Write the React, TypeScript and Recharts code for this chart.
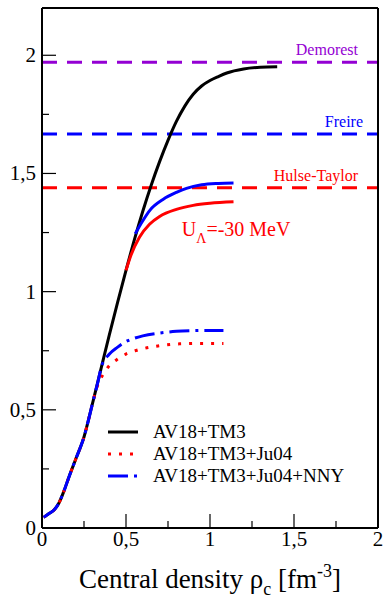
import React from "react"
import { Legend, Line, LineChart, ReferenceDot, ReferenceLine, XAxis, YAxis } from "recharts"

// nucleonic branch shared by every EOS at low density
const nucleonRho = [0.01, 0.04, 0.07, 0.1, 0.13, 0.16, 0.2, 0.25, 0.3]
const nucleonMass = [0.045, 0.06, 0.075, 0.105, 0.155, 0.215, 0.29, 0.385, 0.525]

// AV18+TM3 (nucleons only)
const tm3Rho = [0.35, 0.4, 0.45, 0.5, 0.55, 0.6, 0.65, 0.7, 0.75, 0.8, 0.85, 0.9, 0.95, 1.0, 1.05, 1.1, 1.2, 1.3, 1.4]
const tm3Mass = [0.67, 0.815, 0.955, 1.09, 1.22, 1.34, 1.45, 1.55, 1.64, 1.72, 1.785, 1.835, 1.87, 1.893, 1.91, 1.925, 1.942, 1.949, 1.951]

// AV18+TM3+Ju04
const ju04Rho = [0.32, 0.34, 0.36, 0.395, 0.445, 0.5, 0.565, 0.69, 0.82, 0.95, 1.08]
const ju04Mass = [0.58, 0.62, 0.645, 0.682, 0.712, 0.736, 0.752, 0.77, 0.779, 0.781, 0.781]

// AV18+TM3+Ju04+NNY
const nnyRho = [0.33, 0.355, 0.4, 0.45, 0.485, 0.55, 0.6, 0.7, 0.8, 0.9, 1.0, 1.08]
const nnyMass = [0.61, 0.685, 0.735, 0.765, 0.783, 0.803, 0.813, 0.825, 0.832, 0.835, 0.836, 0.836]

// U_Lambda = -30 MeV variants
const ju04UlRho = [0.5, 0.53, 0.58, 0.64, 0.7, 0.8, 0.9, 1.0, 1.14]
const ju04UlMass = [1.09, 1.155, 1.23, 1.285, 1.318, 1.348, 1.365, 1.374, 1.38]
const nnyUlRho = [0.555, 0.6, 0.643, 0.72, 0.8, 0.86, 0.95, 1.05, 1.14]
const nnyUlMass = [1.245, 1.3, 1.345, 1.39, 1.42, 1.437, 1.452, 1.458, 1.46]

// observed pulsar masses
const pulsarNames = ["Demorest", "Freire", "Hulse-Taylor"]
const pulsarMass = [1.97, 1.667, 1.44]
const pulsarColors = ["#9400d3", "#0000ff", "#ff0000"]
const pulsarLabelDx = [20, 15, 20]

const xTicks = [0, 0.25, 0.5, 0.75, 1, 1.25, 1.5, 1.75, 2]
const xTickLabels = ["0", "", "0,5", "", "1", "", "1,5", "", "2"]
const yTicks = [0, 0.25, 0.5, 0.75, 1, 1.25, 1.5, 1.75, 2]
const yTickLabels = ["0", "", "0,5", "", "1", "", "1,5", "", "2"]

const serif = "'Liberation Serif', 'Times New Roman', 'DejaVu Serif', serif"

const points = (rho: number[], mass: number[]) => rho.map((r, i) => ({ rho: r, mass: mass[i] }))

const tm3 = points([...nucleonRho, ...tm3Rho], [...nucleonMass, ...tm3Mass])
const ju04 = points([...nucleonRho, ...ju04Rho], [...nucleonMass, ...ju04Mass])
const nny = points([...nucleonRho, ...nnyRho], [...nucleonMass, ...nnyMass])
const ju04Ul = points(ju04UlRho, ju04UlMass)
const nnyUl = points(nnyUlRho, nnyUlMass)

const MAJOR = 14
const MINOR = 7

const label = (ticks: number[], texts: string[], v: number) => texts[ticks.findIndex((t) => Math.abs(t - v) < 1e-6)] || ""

const BottomTick = (p: any) => {
  const text = label(xTicks, xTickLabels, p.payload.value)
  const len = text ? MAJOR : MINOR
  return (
    <g>
      <line x1={p.x} x2={p.x} y1={p.y} y2={p.y - len} stroke="#000" strokeWidth={1.2} />
      {text && (
        <text x={p.x} y={p.y + 18} textAnchor="middle" fontSize={21} fontFamily={serif} fill="#000">
          {text}
        </text>
      )}
    </g>
  )
}

const TopTick = (p: any) => {
  const major = label(xTicks, xTickLabels, p.payload.value) !== ""
  return <line x1={p.x} x2={p.x} y1={p.y} y2={p.y + (major ? MAJOR : MINOR)} stroke="#000" strokeWidth={1.2} />
}

const LeftTick = (p: any) => {
  const text = label(yTicks, yTickLabels, p.payload.value)
  const len = text ? MAJOR : MINOR
  return (
    <g>
      <line x1={p.x} x2={p.x + len} y1={p.y} y2={p.y} stroke="#000" strokeWidth={1.2} />
      {text && (
        <text x={p.x - 6} y={p.y + 7} textAnchor="end" fontSize={21} fontFamily={serif} fill="#000">
          {text}
        </text>
      )}
    </g>
  )
}

const RightTick = (p: any) => {
  const major = label(yTicks, yTickLabels, p.payload.value) !== ""
  return <line x1={p.x} x2={p.x - (major ? MAJOR : MINOR)} y1={p.y} y2={p.y} stroke="#000" strokeWidth={1.2} />
}

const AxisTitle = (p: any) => {
  const vb = p.viewBox
  return (
    <text x={vb.x + vb.width / 2} y={vb.y + 60} textAnchor="middle" fontSize={27} fontFamily={serif} fill="#000">
      Central density ρ
      <tspan fontSize={18} dy={7}>c</tspan>
      <tspan dy={-7}> [fm</tspan>
      <tspan fontSize={18} dy={-11}>-3</tspan>
      <tspan dy={11}>]</tspan>
    </text>
  )
}

const PotentialLabel = (p: any) => (
  <text x={p.viewBox.x} y={p.viewBox.y} fontSize={20} fontFamily={serif} fill="#ff0000">
    U<tspan fontSize={14} dy={7}>Λ</tspan>
    <tspan dy={-7}>=-30 MeV</tspan>
  </text>
)

const pulsarLabel = (i: number) => (p: any) => {
  const vb = p.viewBox
  return (
    <text x={vb.x + vb.width - pulsarLabelDx[i]} y={vb.y - 7} textAnchor="end" fontSize={16} fontFamily={serif} fill={pulsarColors[i]}>
      {pulsarNames[i]}
    </text>
  )
}

const LegendBox = ({ payload }: any) => (
  <div style={{ fontFamily: serif, fontSize: 19, lineHeight: "22px", color: "#000" }}>
    {(payload || [])
      .filter((entry: any) => entry.type !== "none")
      .map((entry: any) => (
        <div key={entry.value} style={{ display: "flex", alignItems: "center", height: 22, whiteSpace: "nowrap" }}>
          <svg width={30} height={22} style={{ marginRight: 15 }}>
            <line x1={0} x2={30} y1={11} y2={11} stroke={entry.color} strokeWidth={3} strokeDasharray={entry.payload?.strokeDasharray} />
          </svg>
          <span>{entry.value}</span>
        </div>
      ))}
  </div>
)

const frame = { stroke: "#000", strokeWidth: 2 }

export default function App() {
  return (
    <div style={{ position: "absolute", left: 0, top: 0, background: "#fff" }}>
      <LineChart width={384} height={598} margin={{ top: 7, right: 5, bottom: 69, left: 41 }}>
        <XAxis
          xAxisId="b"
          dataKey="rho"
          type="number"
          domain={[0, 2]}
          ticks={xTicks}
          interval={0}
          height={1}
          tickSize={0}
          tickMargin={0}
          tick={BottomTick}
          axisLine={frame}
          tickLine={false}
          label={{ content: AxisTitle }}
          allowDuplicatedCategory={false}
        />
        <XAxis
          xAxisId="t"
          orientation="top"
          dataKey="rho"
          type="number"
          domain={[0, 2]}
          ticks={xTicks}
          interval={0}
          height={1}
          tickSize={0}
          tickMargin={0}
          tick={TopTick}
          axisLine={frame}
          tickLine={false}
          allowDuplicatedCategory={false}
        />
        <YAxis
          yAxisId="l"
          type="number"
          domain={[0, 2.2]}
          ticks={yTicks}
          interval={0}
          width={1}
          tickSize={0}
          tickMargin={0}
          tick={LeftTick}
          axisLine={frame}
          tickLine={false}
        />
        <YAxis
          yAxisId="r"
          orientation="right"
          type="number"
          domain={[0, 2.2]}
          ticks={yTicks}
          interval={0}
          width={1}
          tickSize={0}
          tickMargin={0}
          tick={RightTick}
          axisLine={frame}
          tickLine={false}
        />

        {pulsarMass.map((m, i) => (
          <ReferenceLine
            key={pulsarNames[i]}
            xAxisId="b"
            yAxisId="l"
            y={m}
            stroke={pulsarColors[i]}
            strokeWidth={3}
            strokeDasharray="15 10"
            label={{ content: pulsarLabel(i) }}
          />
        ))}

        <Line xAxisId="b" yAxisId="l" data={tm3} dataKey="mass" name="AV18+TM3" type="monotone" stroke="#000" strokeWidth={3} dot={false} isAnimationActive={false} />
        <Line xAxisId="b" yAxisId="l" data={ju04Ul} dataKey="mass" name="ju04Ul" type="monotone" stroke="#ff0000" strokeWidth={3} dot={false} legendType="none" isAnimationActive={false} />
        <Line xAxisId="b" yAxisId="l" data={nnyUl} dataKey="mass" name="nnyUl" type="monotone" stroke="#0000ff" strokeWidth={3} dot={false} legendType="none" isAnimationActive={false} />
        <Line xAxisId="b" yAxisId="l" data={ju04} dataKey="mass" name="AV18+TM3+Ju04" type="monotone" stroke="#ff0000" strokeWidth={3} strokeDasharray="3 8" dot={false} isAnimationActive={false} />
        <Line xAxisId="b" yAxisId="l" data={nny} dataKey="mass" name="AV18+TM3+Ju04+NNY" type="monotone" stroke="#0000ff" strokeWidth={3} strokeDasharray="20 6 3 6" dot={false} isAnimationActive={false} />

        <ReferenceDot xAxisId="b" yAxisId="l" x={0.832} y={1.235} r={0} fill="none" stroke="none" label={{ content: PotentialLabel }} />

        <Legend
          layout="vertical"
          align="center"
          verticalAlign="middle"
          wrapperStyle={{ left: 108, top: 421, width: 270 }}
          content={LegendBox}
        />
      </LineChart>
    </div>
  )
}
